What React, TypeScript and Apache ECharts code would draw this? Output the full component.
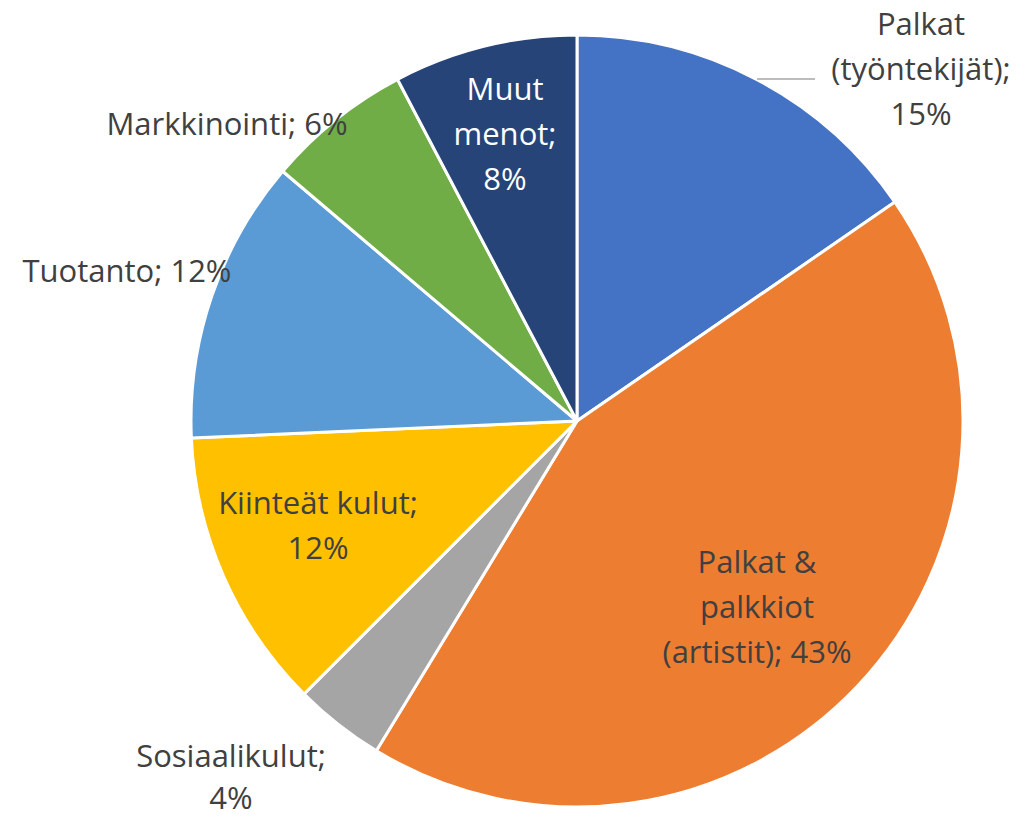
import React, { useEffect, useRef } from "react";
import * as echarts from "echarts";

const categories = [
  "Palkat (työntekijät)",
  "Palkat & palkkiot (artistit)",
  "Sosiaalikulut",
  "Kiinteät kulut",
  "Tuotanto",
  "Markkinointi",
  "Muut menot",
];
const values = [15.4, 43.3, 3.8, 11.8, 11.9, 6.1, 7.7];
const colors = ["#4472C4", "#ED7D31", "#A5A5A5", "#FFC000", "#5B9BD5", "#70AD47", "#264478"];
// label text with line breaks, {p} replaced by the rounded percent
const labelTemplates = [
  "Palkat\n(työntekijät);\n{p}%",
  "Palkat &\npalkkiot\n(artistit); {p}%",
  "Sosiaalikulut;\n{p}%",
  "Kiinteät kulut;\n{p}%",
  "Tuotanto; {p}%",
  "Markkinointi; {p}%",
  "Muut\nmenot;\n{p}%",
];
const labelColors = ["#404040", "#404040", "#404040", "#404040", "#404040", "#404040", "#FFFFFF"];
const labelLineHeights = [45, 45, 42, 45, 45, 45, 45];
const labelPos: [number, number][] = [
  [921, 68],
  [757, 606],
  [231, 776],
  [318, 524],
  [127, 270],
  [227, 123],
  [505, 133],
];

export default function App() {
  const ref = useRef<HTMLDivElement>(null);
  useEffect(() => {
    document.body.style.margin = "0";
    const chart = echarts.init(ref.current!, null, { renderer: "svg" });
    chart.setOption({
      animation: false,
      backgroundColor: "#FFFFFF",
      series: [
        {
          type: "pie",
          center: [577, 421],
          radius: 386,
          startAngle: 90,
          clockwise: true,
          avoidLabelOverlap: false,
          itemStyle: { borderColor: "#FFFFFF", borderWidth: 3 },
          emphasis: { disabled: true },
          label: {
            show: true,
            position: "inside",
            fontFamily: "'Open Sans', sans-serif",
            fontSize: 31,
            lineHeight: 45,
            align: "center",
            formatter: (p: any) =>
              labelTemplates[p.dataIndex].replace("{p}", String(Math.round(p.percent))),
          },
          labelLine: { show: false },
          labelLayout: (p: any) => ({
            x: labelPos[p.dataIndex][0],
            y: labelPos[p.dataIndex][1],
            align: "center",
            verticalAlign: "middle",
          }),
          data: categories.map((name, i) => ({
            name,
            value: values[i],
            itemStyle: { color: colors[i] },
            label: { color: labelColors[i], lineHeight: labelLineHeights[i] },
          })),
        },
      ],
      graphic: [
        {
          type: "line",
          shape: { x1: 757, y1: 79, x2: 815, y2: 79 },
          style: { stroke: "#A6A6A6", lineWidth: 1.5 },
          z: 10,
        },
      ],
    });
    return () => chart.dispose();
  }, []);
  return <div ref={ref} style={{ width: 1025, height: 817 }} />;
}
